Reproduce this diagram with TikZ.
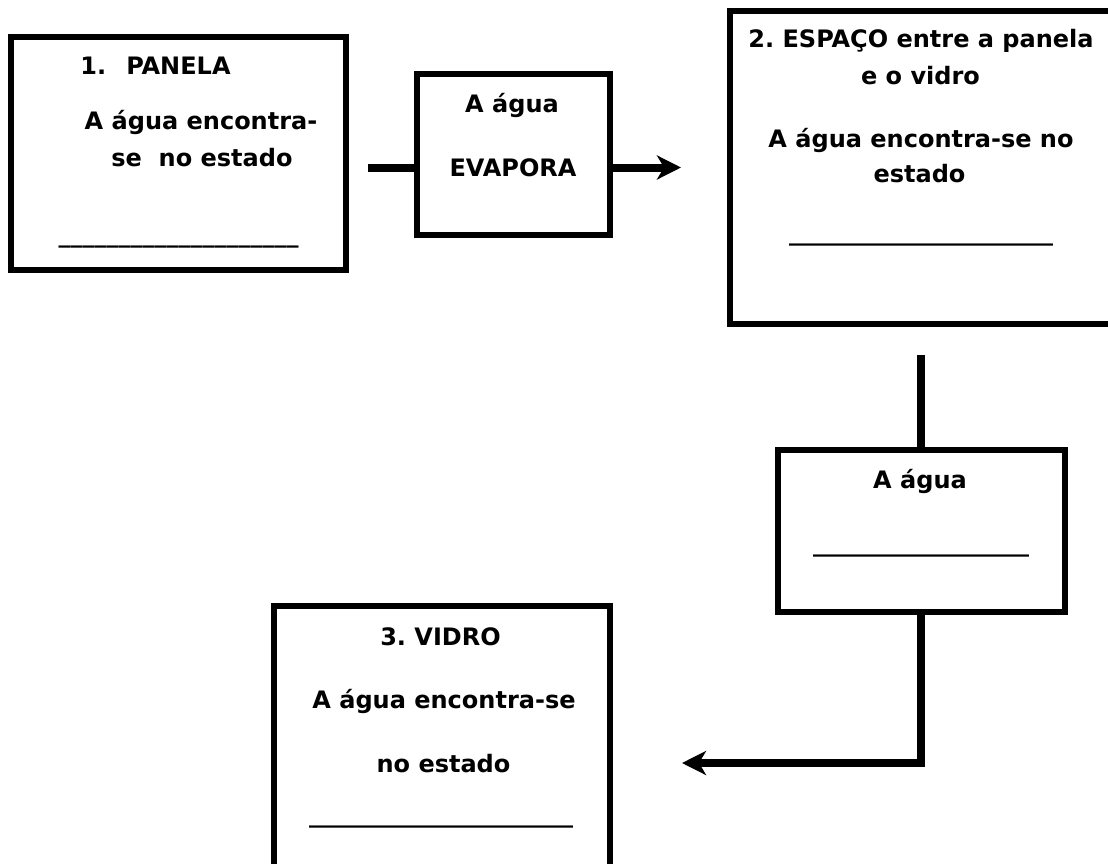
\documentclass[tikz,border=0pt]{standalone}
\usepackage{fontspec}
\setmainfont{DejaVu Sans}
\usetikzlibrary{arrows.meta}
\usetikzlibrary{positioning}
\frenchspacing

\begin{document}
\begin{tikzpicture}[x=1pt, y=-1pt,
        box/.style   = {draw, line width=6pt, fill=white, inner sep=0pt},
        txt/.style   = {anchor=base, inner sep=0pt, font=\fontsize{24}{29}\selectfont\bfseries},
        seta/.style  = {line width=8pt},
        >={Stealth[length=24pt, width=24pt, inset=7pt]}]
        \useasboundingbox (0, 0) rectangle (1108, 864);

        \node[box, minimum width=335pt, minimum height=233pt]   (panela)  at (178.5, 153.5)  {};
        \node[box, minimum width=192.5pt, minimum height=161pt] (evapora) at (513.25, 154.5) {};
        \node[box, minimum width=382pt, minimum height=313pt]   (espaco)  at (921, 167.5)    {};
        \node[box, minimum width=287.5pt, minimum height=162pt] (agua)    at (921.25, 531)   {};
        \node[box, minimum width=336pt, minimum height=294pt]   (vidro)   at (442, 753)      {};

        \node[txt] (p1) at (155.5, 75)  {1.\hspace{20pt}PANELA};
        \node[txt] (p2) at (201, 130)   {A água encontra-};
        \node[txt] (p3) at (202, 166.5) {se\ \ no estado};
        \node[txt] (p4) at (178.5, 242) {\_\_\_\_\_\_\_\_\_\_\_\_\_\_\_\_\_\_\_\_};

        \node[txt] (v1) at (512, 113)   {A água};
        \node[txt] (v2) at (513, 176)   {EVAPORA};

        \node[txt] (e1) at (921, 48)    {2. ESPAÇO entre a panela};
        \node[txt] (e2) at (920.5, 85)  {e o vidro};
        \node[txt] (e3) at (921, 147)   {A água encontra-se no};
        \node[txt] (e4) at (919.5, 182) {estado};
        \node[txt] (e5) at (921, 240.5) {\_\_\_\_\_\_\_\_\_\_\_\_\_\_\_\_\_\_\_\_\_\_};

        \node[txt] (a1) at (920, 488)   {A água};
        \node[txt] (a2) at (921, 551.5) {\_\_\_\_\_\_\_\_\_\_\_\_\_\_\_\_\_\_};

        \node[txt] (d1) at (440.5, 645) {3. VIDRO};
        \node[txt] (d2) at (444, 708)   {A água encontra-se};
        \node[txt] (d3) at (443.5, 772) {no estado};
        \node[txt] (d4) at (441, 822)   {\_\_\_\_\_\_\_\_\_\_\_\_\_\_\_\_\_\_\_\_\_\_};

        \coordinate (s1) at (368, 167.5);
        \coordinate (s2) at (681, 167.5);
        \coordinate (s3) at (921, 355);
        \coordinate (s4) at (682, 763);

        \draw[seta]     (s1) -- (s1 -| evapora.west);
        \draw[seta, ->] (evapora.east |- s1) -- (s2);
        \draw[seta]     (s3) -- (s3 |- agua.north);
        \draw[seta, ->] (agua.south) |- (s4);
\end{tikzpicture}
\end{document}
